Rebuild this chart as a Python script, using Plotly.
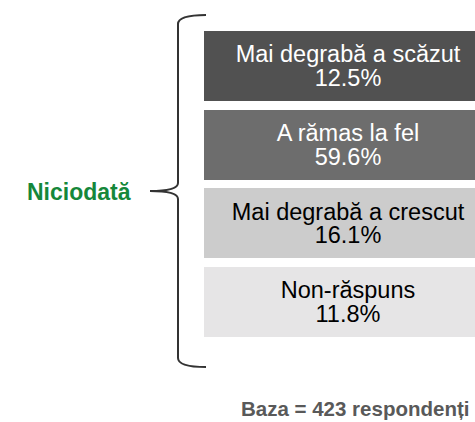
import plotly.graph_objects as go

# data
answers = ["Mai degrabă a scăzut", "A rămas la fel", "Mai degrabă a crescut", "Non-răspuns"]
shares = [12.5, 59.6, 16.1, 11.8]
box_colors = ["#515151", "#6d6d6d", "#cccccc", "#e6e5e6"]
text_colors = ["#ffffff", "#ffffff", "#000000", "#000000"]
group_label = "Niciodată"
base_note = "Baza = 423 respondenți"

W, H = 475, 422
box_left, box_right = 204, 475
box_top, box_pitch, box_h = 31, 78.7, 70
text_x = 348
font = "Liberation Sans, Arial"

centers = [box_top + box_h / 2 + i * box_pitch for i in range(len(answers))]

fig = go.Figure()
fig.add_trace(go.Bar(
    y=centers,
    x=[box_right - box_left] * len(answers),
    base=box_left,
    orientation="h",
    width=box_h,
    marker=dict(color=box_colors, line=dict(width=0)),
    hoverinfo="skip",
    showlegend=False,
))
# label line and percentage line inside each box
fig.add_trace(go.Scatter(
    x=[text_x] * len(answers),
    y=[c - 9.5 for c in centers],
    mode="text",
    text=answers,
    textfont=dict(family=font, size=23.5, color=text_colors),
    hoverinfo="skip",
    showlegend=False,
))
fig.add_trace(go.Scatter(
    x=[text_x] * len(answers),
    y=[c + 14 for c in centers],
    mode="text",
    text=[f"{v:.1f}%" for v in shares],
    textfont=dict(family=font, size=23.5, color=text_colors),
    hoverinfo="skip",
    showlegend=False,
))

# curly brace
fig.add_shape(
    type="path",
    xref="x", yref="y",
    path="M 206,15 Q 178,15 178,24 L 178,183 Q 178,191 150,191 "
         "Q 178,191 178,199 L 178,358 Q 178,367 206,367",
    line=dict(color="#333333", width=2),
)

fig.add_annotation(
    x=79, y=192, xref="x", yref="y",
    text=f"<b>{group_label}</b>", showarrow=False,
    font=dict(family=font, size=23, color="#15873a"),
)
fig.add_annotation(
    x=471, y=408, xref="x", yref="y", xanchor="right",
    text=f"<b>{base_note}</b>", showarrow=False,
    font=dict(family=font, size=20.5, color="#595959"),
)

fig.update_xaxes(range=[0, W], visible=False, fixedrange=True)
fig.update_yaxes(range=[H, 0], visible=False, fixedrange=True)
fig.update_layout(
    width=W, height=H,
    margin=dict(l=0, r=0, t=0, b=0),
    paper_bgcolor="white", plot_bgcolor="white",
    bargap=0,
)

fig.write_html(
    "out.html",
    config={"displayModeBar": False},
    post_script="document.body.style.margin='0';document.body.style.overflow='hidden';",
)
